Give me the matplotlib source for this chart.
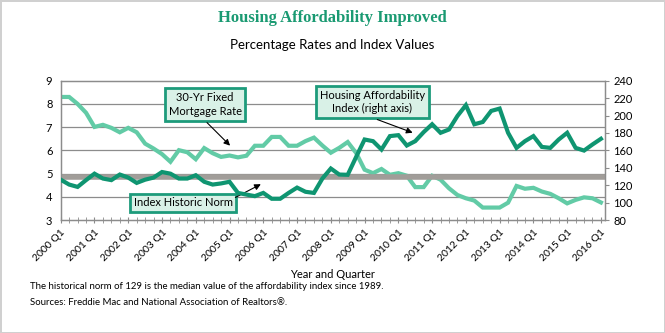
import matplotlib.pyplot as plt
from matplotlib.ticker import MultipleLocator

# Quarterly data, 2000 Q1 .. 2016 Q1
years = list(range(2000, 2017))
quarters = [f"{y} Q{q}" for y in years for q in (1, 2, 3, 4)][:65]
tick_labels = [f"{y} Q1" for y in years]

mortgage_rate = [
    8.30, 8.30, 8.00, 7.62,
    7.01, 7.10, 6.97, 6.78,
    6.97, 6.78, 6.29, 6.08,
    5.84, 5.51, 6.01, 5.92,
    5.62, 6.10, 5.88, 5.72,
    5.78, 5.70, 5.77, 6.20,
    6.20, 6.58, 6.58, 6.20,
    6.20, 6.40, 6.55, 6.21,
    5.90, 6.11, 6.36, 5.89,
    5.17, 5.02, 5.20, 4.95,
    5.02, 4.91, 4.42, 4.42,
    4.91, 4.74, 4.37, 4.08,
    3.94, 3.84, 3.54, 3.54,
    3.54, 3.75, 4.47, 4.35,
    4.39, 4.23, 4.13, 3.94,
    3.72, 3.87, 3.98, 3.94,
    3.76,
]

affordability_index = [
    126.4, 120.8, 118.1, 125.9,
    133.3, 127.7, 125.9, 132.3,
    128.8, 122.7, 126.4, 128.8,
    135.2, 133.3, 127.7, 127.7,
    131.5, 124.0, 120.8, 122.1,
    124.0, 111.2, 109.3, 107.5,
    111.2, 104.5, 104.5, 111.2,
    117.3, 112.5, 111.2, 127.7,
    139.2, 132.3, 132.0, 152.5,
    172.5, 170.6, 161.0, 176.4,
    177.5, 165.6, 170.6, 181.0,
    190.0, 180.2, 184.0, 199.5,
    211.9, 190.0, 192.6, 205.3,
    208.0, 180.2, 162.9, 170.6,
    176.4, 164.0, 162.9, 172.5,
    180.2, 162.9, 159.8, 166.8,
    173.3,
]

historic_norm = 129

dark_green = "#0f9571"
light_green = "#62cba6"
box_edge = "#1d9b7b"
box_face = "#d9f1e7"
grid_gray = "#8c8c8c"

plt.rcParams["font.family"] = ["Lato", "DejaVu Sans"]

fig = plt.figure(figsize=(6.65, 3.33), dpi=100)
fig.patch.set_edgecolor("#d0d0d0")
fig.patch.set_linewidth(2)
ax = fig.add_axes([0.0913, 0.339, 0.8187, 0.4187])
ax2 = ax.twinx()

x = list(range(len(quarters)))

# grid lines on left axis
for v in [4, 5, 6, 7, 8]:
    ax.axhline(v, color=grid_gray, lw=0.9, zorder=0)

ax.plot(x, mortgage_rate, color=light_green, lw=3, solid_joinstyle="miter", zorder=3)
ax2.axhline(historic_norm, color="#a19d99", lw=4, zorder=1)
ax2.plot(x, affordability_index, color=dark_green, lw=3, solid_joinstyle="miter", zorder=3)

ax.set_ylim(3, 9)
ax2.set_ylim(80, 240)
ax.set_xlim(0, 64.5)
ax.yaxis.set_major_locator(MultipleLocator(1))
ax2.yaxis.set_major_locator(MultipleLocator(20))

ax.set_xticks(range(0, 65, 4))
ax.set_xticklabels(tick_labels, rotation=45, ha="right", rotation_mode="anchor", fontsize=7.5)
ax.set_xticks(range(65), minor=True)
ax.tick_params(axis="x", which="both", direction="inout", length=4, color=grid_gray)
ax.tick_params(axis="y", length=0, labelsize=8, pad=6)
ax2.tick_params(axis="y", length=3, labelsize=8, color=grid_gray, pad=3)
for a in (ax, ax2):
    for s in a.spines.values():
        s.set_color(grid_gray)
        s.set_linewidth(0.9)

ax.set_xlabel("Year and Quarter", fontsize=8, labelpad=4)

# callout boxes
bbox = dict(boxstyle="square,pad=0.35", facecolor=box_face, edgecolor=box_edge, lw=2)
arrow = dict(arrowstyle="-|>", color="black", lw=0.8, mutation_scale=9)

ax.text(17.1, 7.98, "30-Yr Fixed\nMortgage Rate", ha="center", va="center",
        fontsize=8, bbox=bbox, zorder=5, linespacing=1.3)
ax.annotate("", xy=(20.3, 6.12), xytext=(17.1, 7.28), arrowprops=arrow, zorder=5)

ax.text(36.9, 8.08, "Housing Affordability\nIndex (right axis)", ha="center", va="center",
        fontsize=8, bbox=bbox, zorder=5, linespacing=1.3)
ax.annotate("", xy=(42.0, 6.72), xytext=(37.2, 7.37), arrowprops=arrow, zorder=5)

ax.text(14.5, 3.74, "Index Historic Norm", ha="center", va="center",
        fontsize=8, bbox=bbox, zorder=5)
ax.annotate("", xy=(24.0, 4.6), xytext=(20.4, 3.92), arrowprops=arrow, zorder=5)

fig.text(0.5, 0.945, "Housing Affordability Improved", ha="center", va="center",
         fontsize=12, color="#1a9a72", family="Liberation Serif", weight="bold")
fig.text(0.5, 0.865, "Percentage Rates and Index Values", ha="center", va="center",
         fontsize=9.5)
fig.text(0.045, 0.14, "The historical norm of 129 is the median value of the affordability index since 1989.",
         ha="left", va="center", fontsize=6.9)
fig.text(0.045, 0.092, "Sources: Freddie Mac and National Association of Realtors\u00ae.",
         ha="left", va="center", fontsize=6.9)

fig.savefig("out.png", dpi=100)
